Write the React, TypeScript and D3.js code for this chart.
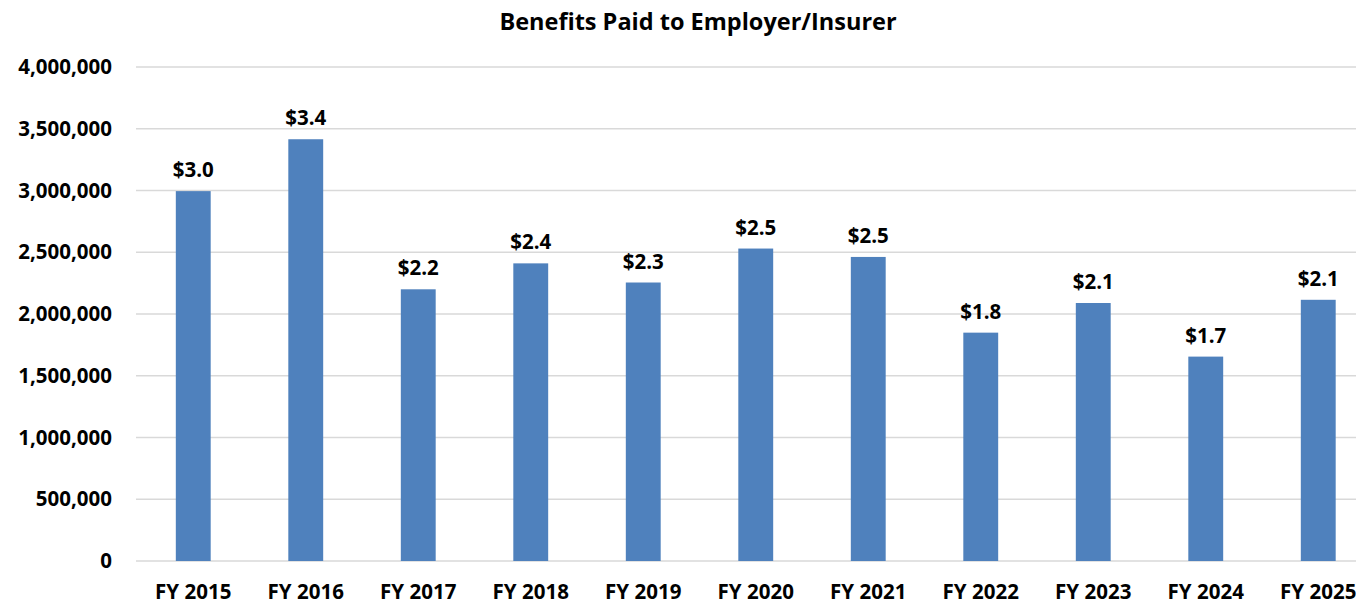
import React from "react";
import * as d3 from "d3";

const categories = ["FY 2015","FY 2016","FY 2017","FY 2018","FY 2019","FY 2020","FY 2021","FY 2022","FY 2023","FY 2024","FY 2025"];
const values = [2995000, 3415000, 2200000, 2410000, 2255000, 2530000, 2462000, 1849000, 2089000, 1655000, 2115000];
const yTicks = [0, 500000, 1000000, 1500000, 2000000, 2500000, 3000000, 3500000, 4000000];
const title = "Benefits Paid to Employer/Insurer";

const W = 1356, H = 605;
const FONT = "'Open Sans', 'Noto Sans', sans-serif";

export default function App() {
  const x = d3.scaleBand<string>().domain(categories).range([137, 137 + 11 * 112.5]).paddingInner(0.69).paddingOuter(0.345);
  const y = d3.scaleLinear().domain([0, 4000000]).range([561, 67]);
  const fmt = d3.format(",");
  return (
    <svg width={W} height={H} style={{ position: "absolute", left: 0, top: 0, background: "#fff" }} fontFamily={FONT}>
      <rect x={0} y={0} width={W} height={H} fill="#fff" />
      <text x={698} y={30} textAnchor="middle" fontSize={23.5} fontWeight={700} fill="#000">{title}</text>
      {yTicks.map((t) => (
        <g key={t}>
          <line x1={136} x2={1380} y1={y(t)} y2={y(t)} stroke="#d9d9d9" strokeWidth={1.5} />
          <text x={112} y={y(t)} dy="0.35em" textAnchor="end" fontSize={20.5} fontWeight={700} fill="#000">{fmt(t)}</text>
        </g>
      ))}
      {categories.map((c, i) => (
        <g key={c}>
          <rect x={x(c)} y={y(values[i])} width={x.bandwidth()} height={y(0) - y(values[i])} fill="#4f81bd" />
          <text x={(x(c) as number) + x.bandwidth() / 2} y={y(values[i]) - 14} textAnchor="middle" fontSize={20.5} fontWeight={700} fill="#000">
            {"$" + (values[i] / 1e6).toFixed(1)}
          </text>
          <text x={(x(c) as number) + x.bandwidth() / 2} y={599} textAnchor="middle" fontSize={20.5} fontWeight={700} fill="#000">{c}</text>
        </g>
      ))}
    </svg>
  );
}
